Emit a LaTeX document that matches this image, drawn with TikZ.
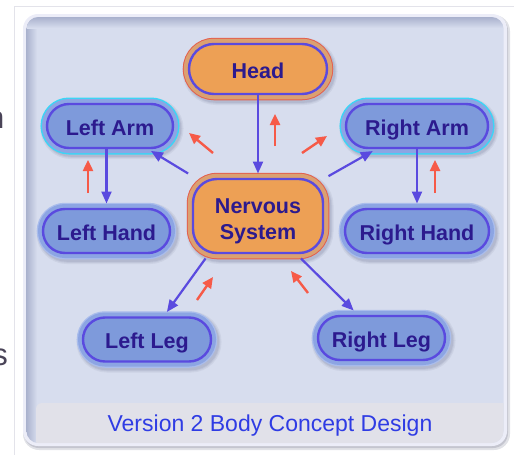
\documentclass[tikz,border=0pt]{standalone}
\usepackage{fontspec}
\setmainfont{Liberation Sans}
\usetikzlibrary{arrows.meta}

\definecolor{pagerule}{HTML}{E3E3EA}
\definecolor{pagetext}{HTML}{4A4458}
\definecolor{panelshadow}{HTML}{C4C5CF}
\definecolor{panelrim}{HTML}{ECEDF8}
\definecolor{panelbg}{HTML}{D7DDEE}
\definecolor{panelinset}{HTML}{A9B1CD}
\definecolor{captionbar}{HTML}{E1E1E9}
\definecolor{captiontext}{HTML}{2F3CE4}
\definecolor{nodeblue}{HTML}{7E9ADB}
\definecolor{ringblue}{HTML}{8CA5E3}
\definecolor{edgeblue}{HTML}{AABDEC}
\definecolor{glowcyan}{HTML}{3CD5F6}
\definecolor{nodeorange}{HTML}{EDA055}
\definecolor{ringorange}{HTML}{DBA071}
\definecolor{edgered}{HTML}{E4604E}
\definecolor{lineblue}{HTML}{5A4ADF}
\definecolor{labeltext}{HTML}{2C1A8E}
\definecolor{pulsered}{HTML}{F65A48}
\definecolor{shadeA}{HTML}{CCD2E4}
\definecolor{shadeB}{HTML}{C0C6DA}
\definecolor{shadeC}{HTML}{B3B9CF}

\tikzset{
  softshadow/.style={
    preaction={draw=shadeA, line width=17pt, transform canvas={shift={(2pt,-2.5pt)}}},
    preaction={draw=shadeB, line width=14.5pt, transform canvas={shift={(2pt,-2.5pt)}}},
    preaction={draw=shadeC, line width=12.5pt, transform canvas={shift={(2pt,-2.5pt)}}}},
  part/.style={rectangle, draw=lineblue, line width=2.4pt, text=labeltext,
    font=\bfseries\fontsize{21.5}{26}\selectfont, align=center,
    inner sep=0pt, outer sep=5.5pt, minimum height=44pt, rounded corners=22pt,
    text height=18.5pt, text depth=0pt},
  limb/.style={part, softshadow, preaction={draw=edgeblue, line width=12.5pt},
    preaction={draw=ringblue, line width=10pt}, fill=nodeblue},
  arm/.style={part, softshadow, preaction={draw=glowcyan, line width=13pt},
    preaction={draw=ringblue, line width=10pt}, fill=nodeblue},
  core/.style={part, softshadow, preaction={draw=edgered, line width=12.5pt},
    preaction={draw=ringorange, line width=10.5pt}, fill=nodeorange},
  nerve/.style={draw=lineblue, line width=2.2pt, -{Triangle[length=12pt,width=10pt]}},
  pulse/.style={draw=pulsered, line width=2.4pt, -{Triangle[length=11pt,width=10pt]}},
  intoring/.style={shorten >=-5pt},
  fromring/.style={shorten <=-5pt},
  pageglyph/.style={anchor=base east, inner sep=0pt, text=pagetext,
    font=\fontsize{31}{31}\selectfont},
}

\begin{document}
\begin{tikzpicture}[x=1pt, y=-1pt]
\useasboundingbox (0,0) rectangle (514,455);

% surrounding page: rule lines and cut-off letters
\draw[pagerule, line width=1pt] (14.5,455) -- (14.5,6.5) -- (514,6.5);
\node[pageglyph] (pagen) at (4.5,128) {n};
\node[pageglyph] (pages) at (8,365) {s};

% panel with rim, inset shading and caption strip
\fill[panelshadow!50!white, rounded corners=16pt] (23,15) rectangle (510,450);
\fill[panelshadow, rounded corners=15pt] (24,16) rectangle (508,448);
\fill[panelrim, rounded corners=15pt] (23,14) rectangle (507,446);
\begin{scope}
  \clip[rounded corners=12pt] (26.5,17) rectangle (503.5,443);
  \fill[panelbg] (26,17) rectangle (504,443);
  \shade[left color=panelinset, right color=panelbg] (26,17) rectangle (37,443);
  \shade[top color=panelinset, bottom color=panelbg] (26,17) rectangle (504,28);
  \fill[captionbar, rounded corners=6pt] (36,403) rectangle (512,452);
\end{scope}

% body parts
\node[core, minimum width=138pt, minimum height=50pt, rounded corners=25pt] (head) at (258,69) {Head};
\node[core, minimum width=130pt, minimum height=74pt, rounded corners=24pt,
      text height=46pt, text depth=0pt] (ns) at (258,216) {Nervous\\System};
\node[arm, minimum width=126pt] (la) at (110,126) {Left Arm};
\node[arm, minimum width=142pt] (ra) at (417,126) {Right Arm};
\node[limb, minimum width=127pt] (lh) at (106.5,231) {Left Hand};
\node[limb, minimum width=144pt] (rh) at (417,231) {Right Hand};
\node[limb, minimum width=128pt] (ll) at (147,339.5) {Left Leg};
\node[limb, minimum width=127pt] (rl) at (381.5,338) {Right Leg};

% signal paths
\draw[nerve, fromring] (head) -- (ns);
\draw[nerve, intoring] (ns) -- (la);
\draw[nerve, intoring] (ns) -- (ra);
\draw[nerve, fromring] (la.south -| lh) -- (lh);
\draw[nerve, fromring] (ra) -- (rh);
\draw[nerve] (ns.219) -- (ll);
\draw[nerve] (ns) -- (rl);

% feedback pulses
\coordinate (p1s) at (275,146); \coordinate (p1e) at (275,114);
\coordinate (p2s) at (213,153); \coordinate (p2e) at (189,133);
\coordinate (p3s) at (302,153); \coordinate (p3e) at (327,136);
\coordinate (p4s) at (88,193);  \coordinate (p4e) at (88,160);
\coordinate (p5s) at (435,193); \coordinate (p5e) at (435,160);
\coordinate (p6s) at (197,300); \coordinate (p6e) at (213,277);
\coordinate (p7s) at (308,293); \coordinate (p7e) at (291,271);
\foreach \k in {1,...,7} \draw[pulse] (p\k s) -- (p\k e);

% caption
\node[text=captiontext, font=\fontsize{23}{28}\selectfont, text height=16.5pt,
      text depth=0pt, inner sep=0pt] (caption) at (270,423.5) {Version 2 Body Concept Design};
\end{tikzpicture}
\end{document}
